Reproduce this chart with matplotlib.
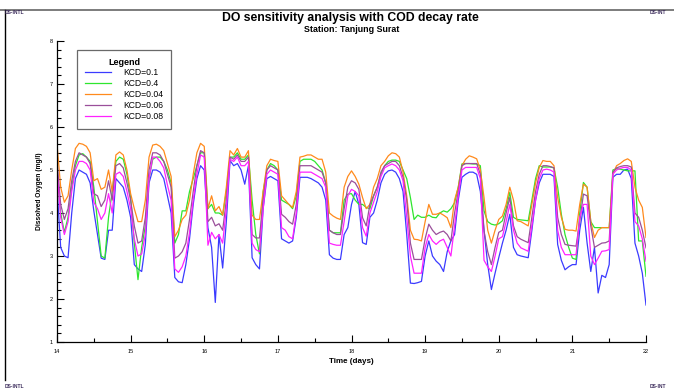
import numpy as np
import matplotlib
matplotlib.use("Agg")
import matplotlib.pyplot as plt
from matplotlib.lines import Line2D
from matplotlib.ticker import MultipleLocator

plt.rcParams['font.family'] = ['Liberation Sans', 'DejaVu Sans']

# time axis (days), one reading every 0.05 day from 14 to 22
time_days = [round(14.0 + 0.05 * i, 2) for i in range(161)]

# DO (mg/l), one row of 10 values per half day
do_kcd_01 = [4.6, 3.2, 3.0, 2.96, 4.0, 4.8, 5.0, 4.95, 4.9, 4.7,
             4.05, 3.5, 2.95, 2.92, 3.6, 3.6, 4.8, 4.7, 4.6, 4.3,
             3.9, 2.8, 2.7, 2.64, 3.27, 4.7, 5.0, 5.0, 4.95, 4.8,
             4.4, 4.0, 2.5, 2.4, 2.38, 2.8, 3.4, 4.2, 4.8, 5.1,
             5.0, 3.66, 3.2, 1.92, 3.5, 2.72, 3.8, 5.22, 5.1, 5.15,
             5.0, 4.67, 5.1, 2.96, 2.8, 2.7, 4.1, 4.8, 4.85, 4.8,
             4.75, 3.4, 3.35, 3.3, 3.35, 3.9, 4.83, 4.83, 4.83, 4.8,
             4.75, 4.7, 4.6, 4.3, 3.03, 2.95, 2.92, 2.92, 3.5, 3.66,
             4.2, 4.5, 4.2, 3.31, 3.27, 3.9, 4.0, 4.3, 4.7, 4.9,
             4.98, 5.0, 4.95, 4.8, 4.5, 3.5, 2.37, 2.36, 2.38, 2.41,
             3.0, 3.35, 3.0, 2.88, 2.8, 2.64, 3.1, 3.35, 3.5, 4.3,
             4.83, 4.9, 4.95, 4.95, 4.9, 4.5, 3.6, 2.8, 2.22, 2.6,
             2.96, 3.3, 3.6, 3.97, 3.2, 3.03, 3.0, 2.98, 2.96, 3.6,
             4.3, 4.7, 4.9, 4.9, 4.9, 4.85, 3.27, 2.9, 2.68, 2.75,
             2.8, 2.8, 3.6, 4.13, 3.3, 2.64, 3.2, 2.14, 2.55, 2.5,
             2.8, 4.83, 4.9, 4.9, 5.0, 5.02, 4.8, 3.3, 3.0, 2.6,
             1.86]
do_kcd_04 = [4.9, 4.0, 3.55, 3.9, 4.6, 5.1, 5.35, 5.38, 5.3, 5.2,
             4.6, 3.8, 3.0, 2.95, 3.9, 4.5, 5.2, 5.3, 5.25, 4.9,
             4.35, 3.3, 2.45, 3.2, 3.7, 4.8, 5.25, 5.3, 5.3, 5.2,
             5.0, 4.7, 3.3, 3.5, 4.05, 4.05, 4.5, 4.8, 5.1, 5.4,
             5.4, 4.1, 4.2, 4.0, 4.0, 3.95, 4.5, 5.3, 5.3, 5.4,
             5.25, 5.25, 5.35, 4.3, 3.5, 3.05, 4.5, 5.0, 5.15, 5.1,
             5.0, 4.3, 4.25, 4.2, 4.1, 4.4, 5.2, 5.25, 5.25, 5.25,
             5.2, 5.1, 5.0, 4.7, 3.6, 3.54, 3.54, 3.54, 4.3, 4.44,
             4.45, 4.3, 4.2, 4.2, 4.13, 4.1, 4.4, 4.6, 4.9, 5.1,
             5.2, 5.23, 5.23, 5.2, 5.0, 4.8, 4.36, 3.85, 3.95, 3.9,
             3.9, 3.95, 3.9, 3.89, 4.0, 4.05, 4.02, 4.1, 4.24, 4.6,
             5.14, 5.15, 5.15, 5.14, 5.14, 5.1, 4.05, 3.8, 3.74, 3.72,
             3.75, 3.82, 4.1, 4.48, 3.9, 3.85, 3.84, 3.83, 3.82, 4.3,
             4.8, 5.1, 5.07, 5.07, 5.07, 5.05, 4.6, 3.97, 3.5, 3.2,
             2.95, 2.92, 4.0, 4.71, 4.6, 3.8, 3.66, 3.66, 3.66, 3.66,
             3.66, 5.0, 5.03, 5.02, 5.0, 4.98, 4.98, 4.98, 3.35, 3.35,
             2.53]
do_kcd_004 = [5.6, 4.6, 4.25, 4.4, 5.0, 5.5, 5.62, 5.6, 5.55, 5.4,
              4.75, 4.8, 4.55, 4.6, 5.0, 4.5, 5.35, 5.42, 5.35, 5.0,
              4.45, 4.1, 3.8, 3.8, 4.3, 5.3, 5.58, 5.6, 5.55, 5.45,
              5.15, 4.85, 3.45, 3.6, 3.85, 3.95, 4.3, 4.9, 5.4, 5.62,
              5.55, 4.1, 4.4, 4.05, 4.15, 3.95, 4.6, 5.45, 5.35, 5.5,
              5.3, 5.3, 5.45, 3.95, 3.85, 3.85, 4.5, 5.1, 5.25, 5.22,
              5.2, 4.4, 4.3, 4.2, 4.13, 4.5, 5.3, 5.32, 5.35, 5.35,
              5.3, 5.25, 5.25, 4.95, 4.0, 3.93, 3.88, 3.85, 4.6, 4.85,
              4.98, 4.85, 4.67, 4.36, 4.1, 4.2, 4.6, 4.8, 5.1, 5.2,
              5.33, 5.4, 5.38, 5.3, 4.95, 4.4, 3.6, 3.39, 3.38, 3.35,
              3.8, 4.2, 3.97, 3.97, 4.0, 3.95, 3.89, 3.66, 4.3, 4.6,
              5.1, 5.25, 5.33, 5.3, 5.26, 5.0, 4.36, 3.6, 3.3, 3.6,
              3.85, 3.93, 4.2, 4.6, 4.3, 3.82, 3.8, 3.75, 3.7, 4.2,
              4.7, 5.06, 5.22, 5.2, 5.2, 5.1, 4.36, 3.9, 3.62, 3.6,
              3.6, 3.58, 4.2, 4.67, 4.6, 3.8, 3.43, 3.6, 3.66, 3.66,
              3.66, 4.9, 5.1, 5.15, 5.22, 5.26, 5.2, 4.6, 4.3, 4.13,
              3.43]
do_kcd_006 = [5.2, 4.2, 3.85, 4.1, 4.75, 5.2, 5.4, 5.35, 5.3, 5.15,
              4.45, 4.4, 4.15, 4.3, 4.75, 4.3, 5.1, 5.15, 5.05, 4.7,
              4.3, 3.7, 3.3, 3.35, 3.9, 5.0, 5.4, 5.4, 5.35, 5.2,
              4.9, 4.6, 2.95, 3.0, 3.1, 3.3, 3.85, 4.5, 5.1, 5.45,
              5.4, 3.8, 3.9, 3.7, 3.75, 3.6, 4.3, 5.3, 5.25, 5.35,
              5.2, 5.2, 5.3, 3.5, 3.42, 3.42, 4.3, 5.0, 5.1, 5.05,
              5.0, 3.97, 3.9, 3.8, 3.74, 4.2, 5.1, 5.1, 5.1, 5.1,
              5.05, 5.0, 4.95, 4.7, 3.6, 3.54, 3.5, 3.5, 4.1, 4.6,
              4.75, 4.7, 4.55, 3.89, 3.7, 4.2, 4.4, 4.6, 4.95, 5.1,
              5.15, 5.2, 5.2, 5.1, 4.83, 4.3, 3.3, 2.92, 2.92, 2.92,
              3.4, 3.74, 3.6, 3.5, 3.55, 3.58, 3.5, 3.35, 4.0, 4.5,
              5.1, 5.15, 5.15, 5.15, 5.15, 4.9, 3.58, 3.1, 2.8, 3.2,
              3.55, 3.6, 4.0, 4.36, 3.7, 3.45, 3.39, 3.35, 3.31, 3.9,
              4.5, 4.9, 5.1, 5.1, 5.08, 5.05, 3.9, 3.5, 3.27, 3.25,
              3.24, 3.23, 3.8, 4.44, 4.4, 3.7, 3.2, 3.25, 3.3, 3.31,
              3.35, 4.95, 5.05, 5.08, 5.1, 5.1, 5.07, 4.0, 3.9, 3.6,
              3.19]
do_kcd_008 = [5.0, 3.9, 3.5, 3.8, 4.5, 5.0, 5.2, 5.2, 5.15, 5.0,
              4.25, 4.1, 3.85, 4.0, 4.45, 4.0, 4.9, 4.95, 4.85, 4.5,
              4.1, 3.4, 3.0, 3.05, 3.5, 4.8, 5.3, 5.3, 5.2, 5.05,
              4.65, 4.3, 2.7, 2.62, 2.75, 3.0, 3.55, 4.3, 4.9, 5.35,
              5.3, 3.25, 3.55, 3.4, 3.5, 3.3, 4.1, 5.25, 5.2, 5.3,
              5.1, 5.1, 5.2, 3.3, 3.15, 3.1, 4.1, 4.9, 5.0, 4.95,
              4.9, 3.66, 3.6, 3.45, 3.4, 4.0, 4.95, 4.95, 4.95, 4.95,
              4.9, 4.85, 4.8, 4.6, 3.3, 3.27, 3.25, 3.25, 3.8, 4.4,
              4.55, 4.5, 4.4, 3.66, 3.46, 4.0, 4.25, 4.5, 4.85, 5.05,
              5.1, 5.14, 5.1, 5.0, 4.75, 3.9, 3.0, 2.6, 2.6, 2.6,
              3.2, 3.5, 3.35, 3.27, 3.35, 3.39, 3.2, 3.0, 3.7, 4.4,
              5.0, 5.06, 5.06, 5.06, 5.06, 4.8, 2.9, 2.75, 2.64, 3.0,
              3.4, 3.45, 3.8, 4.2, 3.6, 3.3, 3.19, 3.15, 3.11, 3.7,
              4.3, 4.8, 5.0, 5.02, 5.0, 4.95, 3.6, 3.2, 3.03, 3.03,
              3.03, 3.03, 3.9, 4.2, 4.2, 3.0, 2.8, 2.95, 3.11, 3.12,
              3.15, 4.9, 5.0, 5.04, 5.06, 5.06, 5.0, 3.8, 3.7, 3.4,
              2.88]

series_labels = ['KCD=0.1', 'KCD=0.4', 'KCD=0.04', 'KCD=0.06', 'KCD=0.08']
series_values = [do_kcd_01, do_kcd_04, do_kcd_004, do_kcd_006, do_kcd_008]
series_colors = ['#3b3bff', '#2ee62e', '#ff8a1c', '#9a4f9a', '#ff22ff']

W, H = 674, 390
fig = plt.figure(figsize=(W / 100, H / 100), dpi=100)
fig.patch.set_facecolor('white')

def px(x, y):
    return x / W, 1 - y / H

# axes placed in pixel coordinates
left, top, right, bottom = 57, 41, 646, 342
ax = fig.add_axes([left / W, 1 - bottom / H, (right - left) / W, (bottom - top) / H])

handles = []
for vals, lab, col in zip(series_values, series_labels, series_colors):
    h, = ax.plot(time_days, vals, color=col, lw=0.9, label=lab)
    handles.append(h)

ax.set_xlim(14, 22)
ax.set_ylim(1, 8)
ax.spines['top'].set_visible(False)
ax.spines['right'].set_visible(False)
for s in ('left', 'bottom'):
    ax.spines[s].set_linewidth(0.9)
    ax.spines[s].set_color('black')

ax.xaxis.set_major_locator(MultipleLocator(1))
ax.xaxis.set_minor_locator(MultipleLocator(0.5))
ax.yaxis.set_major_locator(MultipleLocator(1))
ax.yaxis.set_minor_locator(MultipleLocator(0.2))
ax.tick_params(which='both', direction='in', labelsize=4, width=0.8, color='black')
ax.tick_params(which='major', length=5)
ax.tick_params(which='minor', length=3)
ax.tick_params(axis='x', pad=5)
ax.tick_params(axis='y', pad=3)

ax.set_xlabel('Time (days)', fontsize=5.8, fontweight='bold', labelpad=3)
ax.set_ylabel('Dissolved Oxygen (mg/l)', fontsize=4.8, fontweight='bold', labelpad=5)

leg = ax.legend(handles, series_labels, title='Legend', loc='upper left',
                bbox_to_anchor=(0.027, 0.985), frameon=True, fancybox=False,
                edgecolor='#444444', fontsize=6.2, handlelength=3.0,
                handletextpad=1.4, labelspacing=0.22, borderpad=0.9,
                title_fontproperties={'weight': 'bold', 'size': 6.5})
leg.get_frame().set_linewidth(0.9)

# titles
fig.text(*px(350, 18), 'DO sensitivity analysis with COD decay rate',
         ha='center', va='center', fontsize=8.8, fontweight='bold')
fig.text(*px(352, 29), 'Station: Tanjung Surat',
         ha='center', va='center', fontsize=6.4, fontweight='bold')

# page frame and corner marks
fig.add_artist(Line2D([0, 1], [1 - 9.5 / H, 1 - 9.5 / H], transform=fig.transFigure,
                      color='#666666', lw=1.2))
fig.add_artist(Line2D([5 / W, 5 / W], [1 - 9.5 / H, 1 - 380 / H], transform=fig.transFigure,
                      color='black', lw=1.0))
for (x, y, s) in [(5, 13, 'DS-INTL'), (650, 13, 'DS-INT'),
                  (5, 387, 'DS-INTL'), (650, 387, 'DS-INT')]:
    fig.text(*px(x, y), s, ha='left', va='center', fontsize=3.6,
             fontweight='bold', color='#3a2a5a')

fig.savefig('out.png', dpi=100)
